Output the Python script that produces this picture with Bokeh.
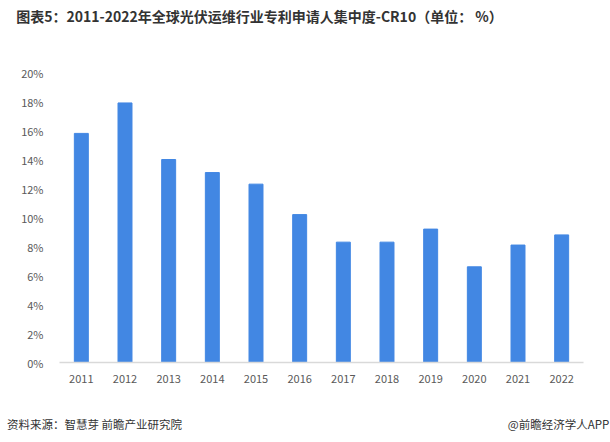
from bokeh.plotting import figure
from bokeh.models import (ColumnDataSource, FixedTicker, PrintfTickFormatter, Range1d,
                          LinearAxis)
from bokeh.embed import file_html
from bokeh.resources import INLINE

years = ["2011", "2012", "2013", "2014", "2015", "2016", "2017", "2018", "2019", "2020", "2021", "2022"]
cr10 = [15.8, 17.9, 14.0, 13.1, 12.3, 10.2, 8.3, 8.3, 9.2, 6.6, 8.1, 8.8]
y_ticks = [0, 2, 4, 6, 8, 10, 12, 14, 16, 18, 20]

title_text = "图表5：2011-2022年全球光伏运维行业专利申请人集中度-CR10（单位： %）"
source_text = "资料来源：智慧芽 前瞻产业研究院"
brand_text = "@前瞻经济学人APP"

FONT = "Noto Sans CJK SC"

idx = list(range(len(years)))
src = ColumnDataSource(dict(i=idx, year=years, v=cr10))
p = figure(width=610, height=434, output_backend="svg",
           toolbar_location=None, min_border_left=59, min_border_right=27,
           min_border_top=72, min_border_bottom=70)
p.x_range = Range1d(-0.5, len(years) - 0.5)
p.y_range = Range1d(0, 20)
p.extra_x_ranges = {"page": Range1d(59, 583)}
p.vbar(x="i", top="v", width=0.32, source=src, color="#4287E3")

p.outline_line_color = None
p.xgrid.grid_line_color = None
p.ygrid.grid_line_color = None

p.yaxis.ticker = FixedTicker(ticks=y_ticks)
p.yaxis.formatter = PrintfTickFormatter(format="%d%%")
p.yaxis.axis_line_color = None
p.yaxis.major_tick_line_color = None
p.yaxis.minor_tick_line_color = None
p.yaxis.major_label_standoff = 10
p.yaxis.major_label_text_font = FONT
p.yaxis.major_label_text_font_size = "11px"
p.yaxis.major_label_text_color = "#595959"

p.xaxis.ticker = FixedTicker(ticks=idx)
p.xaxis.major_label_overrides = {i: y for i, y in zip(idx, years)}
p.xaxis.axis_line_color = "#D9D9D9"
p.xaxis.axis_line_width = 1.5
p.xaxis.major_tick_line_color = None
p.xaxis.minor_tick_line_color = None
p.xaxis.major_label_standoff = 6
p.xaxis.major_label_text_font = FONT
p.xaxis.major_label_text_font_size = "11px"
p.xaxis.major_label_text_color = "#595959"


def text_axis(ticks, labels, standoff, size, color, style="normal"):
    ax = LinearAxis(x_range_name="page", ticker=FixedTicker(ticks=ticks),
                    major_label_overrides=dict(zip(ticks, labels)))
    ax.axis_line_color = None
    ax.major_tick_line_color = None
    ax.minor_tick_line_color = None
    ax.major_label_standoff = standoff
    ax.major_label_text_font = FONT
    ax.major_label_text_font_size = size
    ax.major_label_text_font_style = style
    ax.major_label_text_color = color
    return ax


p.add_layout(text_axis([259], [title_text], 41, "14px", "#333333", "bold"), "above")
p.add_layout(text_axis([94, 558], [source_text, brand_text], 24, "11.5px", "#333333"), "below")

open("out.html", "w").write(file_html(p, INLINE))
